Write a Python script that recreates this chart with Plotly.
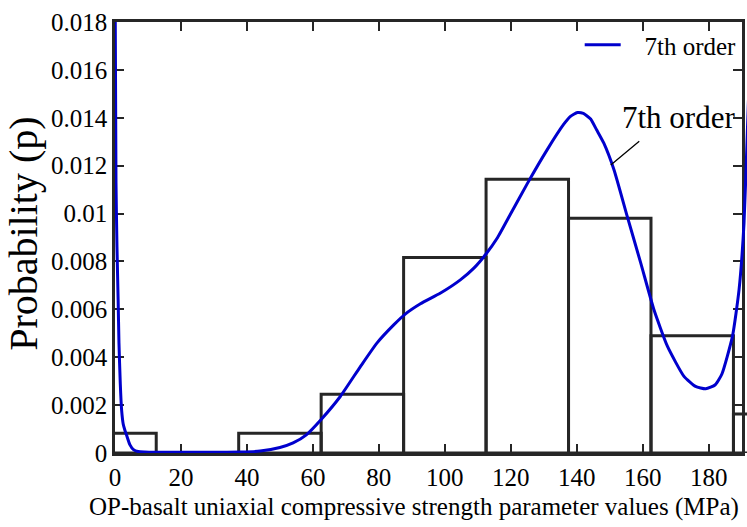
import plotly.graph_objects as go

# ---- data ----
bin_centers = [0, 25, 50, 75, 100, 125, 150, 175, 200]
bin_width = 25
bin_prob = [0.00082, 0.0, 0.00082, 0.00245, 0.00816, 0.01143, 0.0098, 0.0049, 0.00163]

curve_x = [0, 0.3, 0.6, 0.95, 1.2, 1.6, 2.0, 2.5, 3.0, 3.5, 4.5, 5.6, 7, 9, 12, 20, 30, 38,
           44, 50, 54, 58, 62.5, 68.3, 74.4, 79.4, 84.5, 88, 92.6, 98.7, 104.7, 108.8,
           112.3, 116, 120, 125, 131, 136, 138, 140.2, 142, 144.2, 146, 148.2, 151.3,
           155.3, 159.4, 163.4, 167.5, 172.5, 176, 179.1, 182, 184, 187.2, 189.2, 190.7,
           191.7, 192.5]
curve_y = [0.0205, 0.0113, 0.0086, 0.0064, 0.0046, 0.0029, 0.0018, 0.0012, 0.00095, 0.00075,
           0.00035, 0.00014, 0.00006, 0.00004, 0.00003, 0.00003, 0.00003, 0.00004,
           0.00008, 0.00023, 0.00042, 0.00076, 0.0014, 0.00236, 0.00361, 0.00459, 0.00535,
           0.0058, 0.00623, 0.00668, 0.00723, 0.00772, 0.00828, 0.0090, 0.0100, 0.01125,
           0.01266, 0.01372, 0.01405, 0.01422, 0.01418, 0.01395, 0.0135, 0.01294, 0.01182,
           0.00988, 0.00793, 0.00598, 0.00445, 0.0032, 0.00278, 0.00268, 0.00285, 0.0033,
           0.00487, 0.00682, 0.0096, 0.01336, 0.0165]

x_tickvals = [0, 20, 40, 60, 80, 100, 120, 140, 160, 180]
x_ticktext = ["0", "20", "40", "60", "80", "100", "120", "140", "160", "180"]
y_tickvals = [0, 0.002, 0.004, 0.006, 0.008, 0.010, 0.012, 0.014, 0.016, 0.018]
y_ticktext = ["0", "0.002", "0.004", "0.006", "0.008", "0.01", "0.012", "0.014", "0.016", "0.018"]

series_name = "7th order"
x_title = "OP-basalt uniaxial compressive strength parameter values (MPa)"
y_title = "Probability (p)"
label_point = (150.3, 0.01203)

# ---- layout geometry ----
W, H = 747, 527
ML, MR, MT, MB = 115, 0, 22, 74
frame_right_px = 741.7
plot_w = W - ML - MR
frame_frac = (frame_right_px - ML) / plot_w
x_range = [0, 190]
x2_range = [0, x_range[1] / frame_frac]
y_range = [0, 0.018]

axis_col = "#262626"
serif = "Liberation Serif"

fig = go.Figure()

# empty trace so the framed (x, y) subplot with its ticks is created
fig.add_trace(go.Scatter(x=[], y=[], mode="lines", showlegend=False,
                         xaxis="x", yaxis="y", hoverinfo="skip"))

fig.add_trace(go.Bar(
    x=bin_centers, y=bin_prob, width=bin_width,
    marker=dict(color="rgba(0,0,0,0)", line=dict(color=axis_col, width=3)),
    showlegend=False, xaxis="x2", yaxis="y2", hoverinfo="skip",
))

fig.add_trace(go.Scatter(
    x=curve_x, y=curve_y, mode="lines",
    name="\u00a0\u00a0\u00a0" + series_name,
    line=dict(color="#0000CD", width=3, shape="spline", smoothing=0.5),
    xaxis="x2", yaxis="y2",
))

tick_font = dict(family=serif, size=25, color="#000000")

fig.update_layout(
    width=W, height=H,
    margin=dict(l=ML, r=MR, t=MT, b=MB, pad=0),
    paper_bgcolor="white", plot_bgcolor="rgba(0,0,0,0)",
    showlegend=True,
    hovermode=False,
    xaxis=dict(
        domain=[0, frame_frac], range=x_range, anchor="y",
        tickmode="array", tickvals=x_tickvals, ticktext=x_ticktext,
        ticks="inside", ticklen=9, tickwidth=2, tickcolor=axis_col,
        showline=True, linewidth=2.5, linecolor=axis_col, mirror="ticks",
        showgrid=False, zeroline=False, tickfont=tick_font,
    ),
    yaxis=dict(
        domain=[0, 1], range=y_range, anchor="x",
        tickmode="array", tickvals=y_tickvals, ticktext=y_ticktext,
        ticks="inside", ticklen=9, tickwidth=2, tickcolor=axis_col,
        showline=True, linewidth=2.5, linecolor=axis_col, mirror="ticks",
        showgrid=False, zeroline=False, tickfont=tick_font,
    ),
    xaxis2=dict(domain=[0, 1], range=x2_range, anchor="y2", visible=False,
                showgrid=False, zeroline=False),
    yaxis2=dict(domain=[0, 1], range=y_range, anchor="x2", visible=False,
                showgrid=False, zeroline=False),
    legend=dict(
        x=frame_frac, xanchor="right", y=1.0, yanchor="top",
        bgcolor="rgba(0,0,0,0)", borderwidth=0,
        font=dict(family=serif, size=25, color="#000000"),
        itemwidth=36,
    ),
    annotations=[
        dict(text=x_title, xref="paper", yref="paper", x=(413.5 - ML) / plot_w,
             y=(453.3 - 507) / 431.3, xanchor="center", yanchor="middle", showarrow=False,
             font=dict(family=serif, size=25, color="#000000")),
        dict(text=y_title, xref="paper", yref="paper", x=(24 - ML) / plot_w,
             y=0.5085, xanchor="center", yanchor="middle", showarrow=False,
             textangle=-90, font=dict(family=serif, size=40, color="#000000")),
        dict(text=series_name, xref="x2", yref="y2", x=170.9, y=0.0140,
             xanchor="center", yanchor="middle", showarrow=False,
             font=dict(family=serif, size=31, color="#000000")),
        dict(text="", xref="x2", yref="y2", x=label_point[0], y=label_point[1],
             showarrow=True, arrowhead=0, arrowwidth=1.3, arrowcolor="#000000",
             ax=30, ay=-25),
    ],
)

fig.write_html("out.html", config={"displayModeBar": False})
